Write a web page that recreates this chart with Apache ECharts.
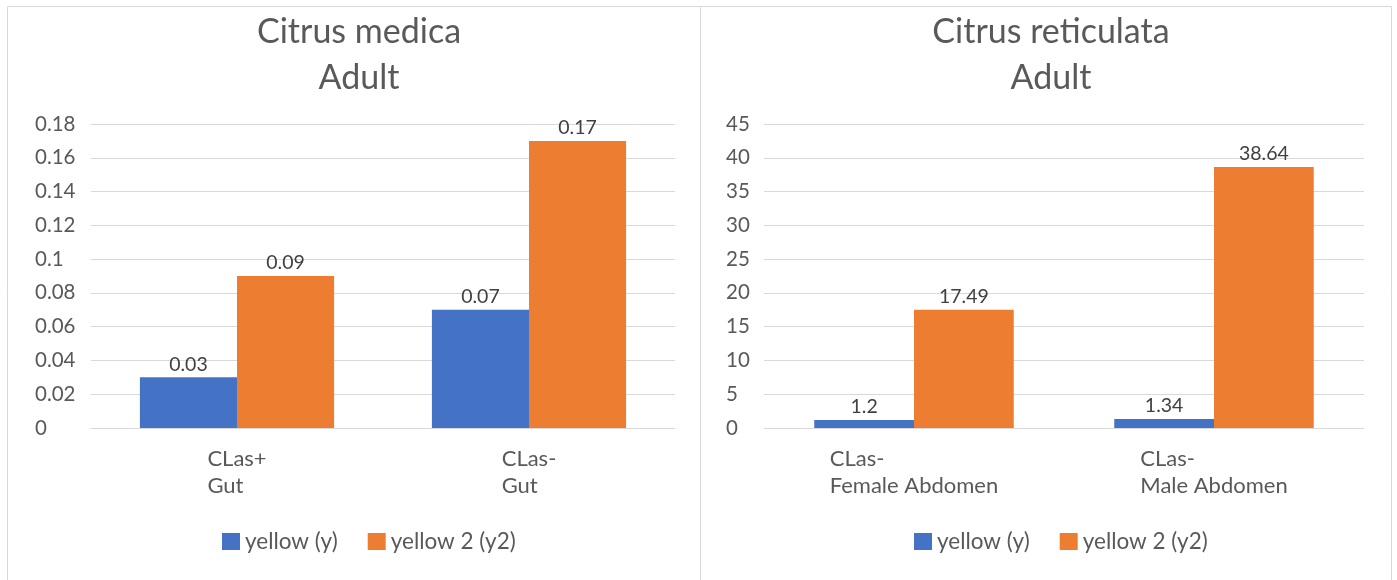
<!DOCTYPE html>
<html>
<head>
<meta charset="utf-8">
<script src="https://cdn.jsdelivr.net/npm/echarts@6/dist/echarts.min.js"></script>
<style>
  html, body { margin: 0; padding: 0; background: #ffffff; }
  #chart { width: 1397px; height: 580px; }
</style>
</head>
<body>
<div id="chart"></div>
<script>
// Panel titles
const titleMedica = 'Citrus medica\nAdult';
const titleReticulata = 'Citrus reticulata\nAdult';

// Series names
const seriesNames = ['yellow (y)', 'yellow 2 (y2)'];

// Citrus medica (adult)
const medicaCategories = ['CLas+\nGut', 'CLas-\nGut'];
const medicaYellow = [0.03, 0.07];
const medicaYellow2 = [0.09, 0.17];

// Citrus reticulata (adult)
const reticulataCategories = ['CLas-\nFemale Abdomen', 'CLas-\nMale Abdomen'];
const reticulataYellow = [1.2, 1.34];
const reticulataYellow2 = [17.49, 38.64];

const FONT = 'Lato, "Open Sans", sans-serif';
const BLUE = '#4472C4';
const ORANGE = '#ED7D31';
const AXIS_TEXT = '#595959';
const LABEL_TEXT = '#404040';
const GRID_LINE = '#D9D9D9';

const chart = echarts.init(document.getElementById('chart'), null, { renderer: 'canvas' });

// multi-line category labels: block centred under the tick, lines left-aligned
function categoryLabel(value) {
  return value.split('\n').map(function (s) { return '{l|' + s + '}'; }).join('\n');
}

function xAxisFor(gridIndex, categories) {
  return {
    type: 'category',
    gridIndex: gridIndex,
    data: categories,
    axisTick: { show: false },
    axisLine: { show: true, lineStyle: { color: GRID_LINE, width: 1 } },
    axisLabel: {
      margin: 17,
      formatter: categoryLabel,
      rich: {
        l: { align: 'left', fontFamily: FONT, fontSize: 22, color: AXIS_TEXT, lineHeight: 27 }
      }
    }
  };
}

function yAxisFor(gridIndex, max, interval, margin) {
  return {
    type: 'value',
    gridIndex: gridIndex,
    min: 0,
    max: max,
    interval: interval,
    axisLine: { show: false },
    axisTick: { show: false },
    splitLine: { lineStyle: { color: GRID_LINE, width: 1 } },
    axisLabel: {
      align: 'left',
      margin: margin,
      fontFamily: FONT,
      fontSize: 20.5,
      color: AXIS_TEXT
    }
  };
}

function barSeries(name, data, color, axisIndex) {
  return {
    name: name,
    type: 'bar',
    xAxisIndex: axisIndex,
    yAxisIndex: axisIndex,
    data: data,
    barGap: '0%',
    barCategoryGap: '33.5%',
    itemStyle: { color: color },
    label: {
      show: true,
      position: 'top',
      distance: 3,
      fontFamily: FONT,
      fontSize: 19.5,
      color: LABEL_TEXT
    }
  };
}

function legendFor(left, names) {
  return {
    left: left,
    top: 525,
    icon: 'rect',
    itemWidth: 18,
    itemHeight: 17,
    itemGap: 30,
    data: names,
    textStyle: { fontFamily: FONT, fontSize: 22.5, color: AXIS_TEXT }
  };
}

const titleStyle = { fontFamily: FONT, fontSize: 34, fontWeight: 'normal', color: AXIS_TEXT, lineHeight: 46 };

const option = {
  backgroundColor: '#ffffff',
  animation: false,
  graphic: [
    { type: 'rect', silent: true, shape: { x: 7.5, y: 6.5, width: 693, height: 600 },
      style: { fill: 'none', stroke: '#D9D9D9', lineWidth: 1 } },
    { type: 'rect', silent: true, shape: { x: 700.5, y: 6.5, width: 691, height: 600 },
      style: { fill: 'none', stroke: '#D9D9D9', lineWidth: 1 } }
  ],
  title: [
    { text: titleMedica, left: 354, textAlign: 'center', top: 4, textStyle: titleStyle },
    { text: titleReticulata, left: 1046, textAlign: 'center', top: 4, textStyle: titleStyle }
  ],
  legend: [
    legendFor(217, seriesNames),
    legendFor(909, seriesNames)
  ],
  grid: [
    { left: 91, top: 124, width: 584, height: 304 },
    { left: 764, top: 124, width: 600, height: 304 }
  ],
  xAxis: [
    xAxisFor(0, medicaCategories),
    xAxisFor(1, reticulataCategories)
  ],
  yAxis: [
    yAxisFor(0, 0.18, 0.02, 56),
    yAxisFor(1, 45, 5, 38)
  ],
  series: [
    barSeries(seriesNames[0], medicaYellow, BLUE, 0),
    barSeries(seriesNames[1], medicaYellow2, ORANGE, 0),
    barSeries(seriesNames[0], reticulataYellow, BLUE, 1),
    barSeries(seriesNames[1], reticulataYellow2, ORANGE, 1)
  ]
};

chart.setOption(option);
</script>
</body>
</html>
